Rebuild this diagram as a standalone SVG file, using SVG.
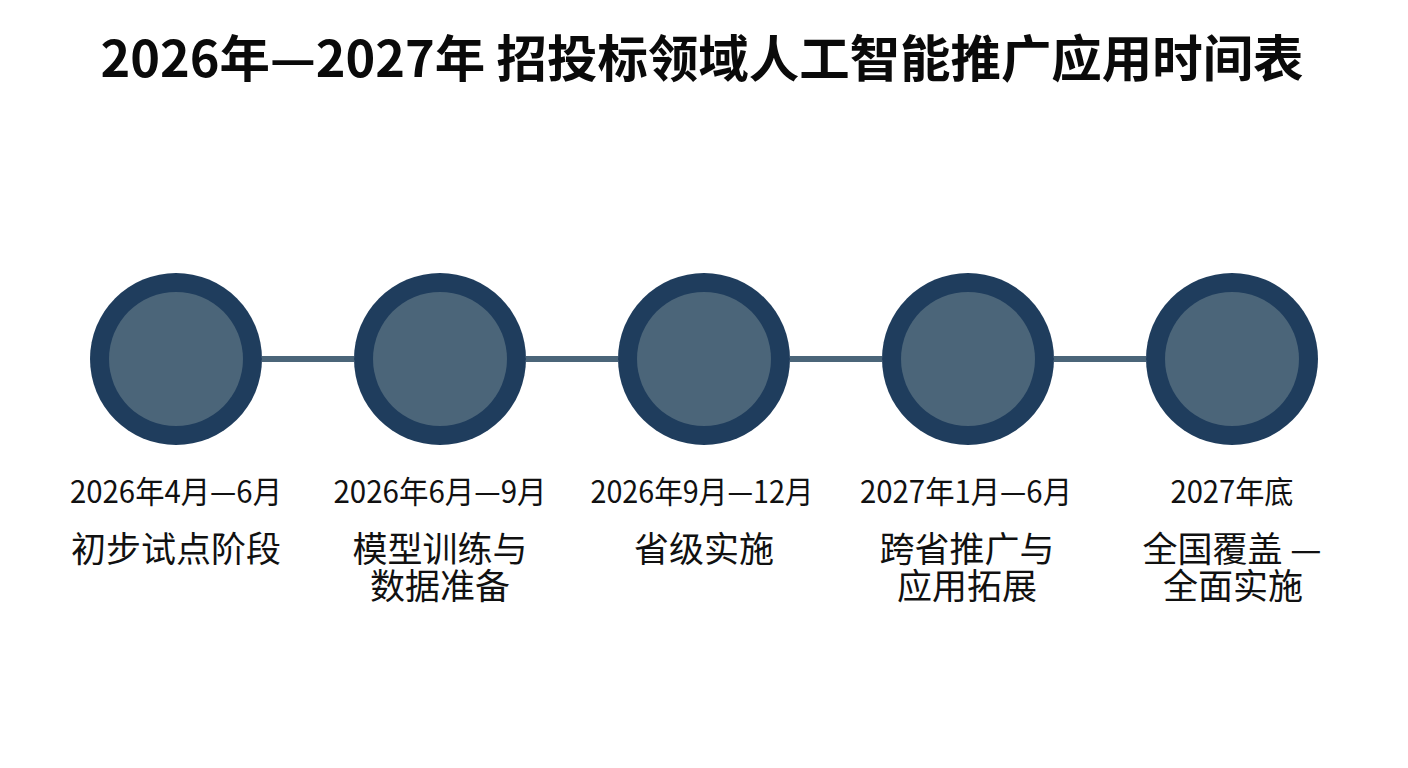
<svg xmlns="http://www.w3.org/2000/svg" width="1408" height="768" viewBox="0 0 1408 768">
<style>
.title{font-family:"Noto Sans CJK SC","Noto Sans",sans-serif;font-weight:700;font-size:50px;fill:#0a0a0a;text-anchor:middle}
.date{font-family:"Noto Sans CJK SC","Noto Sans",sans-serif;font-size:31px;fill:#111;text-anchor:middle}
.stage{font-family:"Noto Sans CJK SC","Noto Sans",sans-serif;font-size:35px;fill:#111;text-anchor:middle}
.outer{fill:#1f3d5d}
.inner{fill:#4b6579}
.conn{stroke:#4b6579;stroke-width:6;fill:none}
</style>
<rect width="1408" height="768" fill="#ffffff"/>
<text class="title" x="702" y="77" textLength="1203" lengthAdjust="spacingAndGlyphs">2026年—2027年 招投标领域人工智能推广应用时间表</text>
<g id="connectors">
<line class="conn" x1="262" y1="359" x2="354" y2="359"/>
<line class="conn" x1="526" y1="359" x2="618" y2="359"/>
<line class="conn" x1="790" y1="359" x2="882" y2="359"/>
<line class="conn" x1="1054" y1="359" x2="1146" y2="359"/>
</g>
<g id="node1">
<circle class="outer" cx="176" cy="359" r="86"/>
<circle class="inner" cx="176" cy="359" r="67"/>
<text class="date" x="176" y="503" textLength="212" lengthAdjust="spacingAndGlyphs">2026年4月—6月</text>
<text class="stage" x="176" y="562">初步试点阶段</text>
</g>
<g id="node2">
<circle class="outer" cx="440" cy="359" r="86"/>
<circle class="inner" cx="440" cy="359" r="67"/>
<text class="date" x="440" y="503" textLength="213" lengthAdjust="spacingAndGlyphs">2026年6月—9月</text>
<text class="stage" x="440" y="562">模型训练与<tspan x="440" dy="37">数据准备</tspan></text>
</g>
<g id="node3">
<circle class="outer" cx="704" cy="359" r="86"/>
<circle class="inner" cx="704" cy="359" r="67"/>
<text class="date" x="702" y="503" textLength="223" lengthAdjust="spacingAndGlyphs">2026年9月—12月</text>
<text class="stage" x="704" y="562">省级实施</text>
</g>
<g id="node4">
<circle class="outer" cx="968" cy="359" r="86"/>
<circle class="inner" cx="968" cy="359" r="67"/>
<text class="date" x="966" y="503" textLength="212" lengthAdjust="spacingAndGlyphs">2027年1月—6月</text>
<text class="stage" x="967" y="562">跨省推广与<tspan x="967" dy="37">应用拓展</tspan></text>
</g>
<g id="node5">
<circle class="outer" cx="1232" cy="359" r="86"/>
<circle class="inner" cx="1232" cy="359" r="67"/>
<text class="date" x="1232" y="503" textLength="123" lengthAdjust="spacingAndGlyphs">2027年底</text>
<text class="stage" x="1232" y="562">全国覆盖 —<tspan x="1233" dy="37">全面实施</tspan></text>
</g>
</svg>
